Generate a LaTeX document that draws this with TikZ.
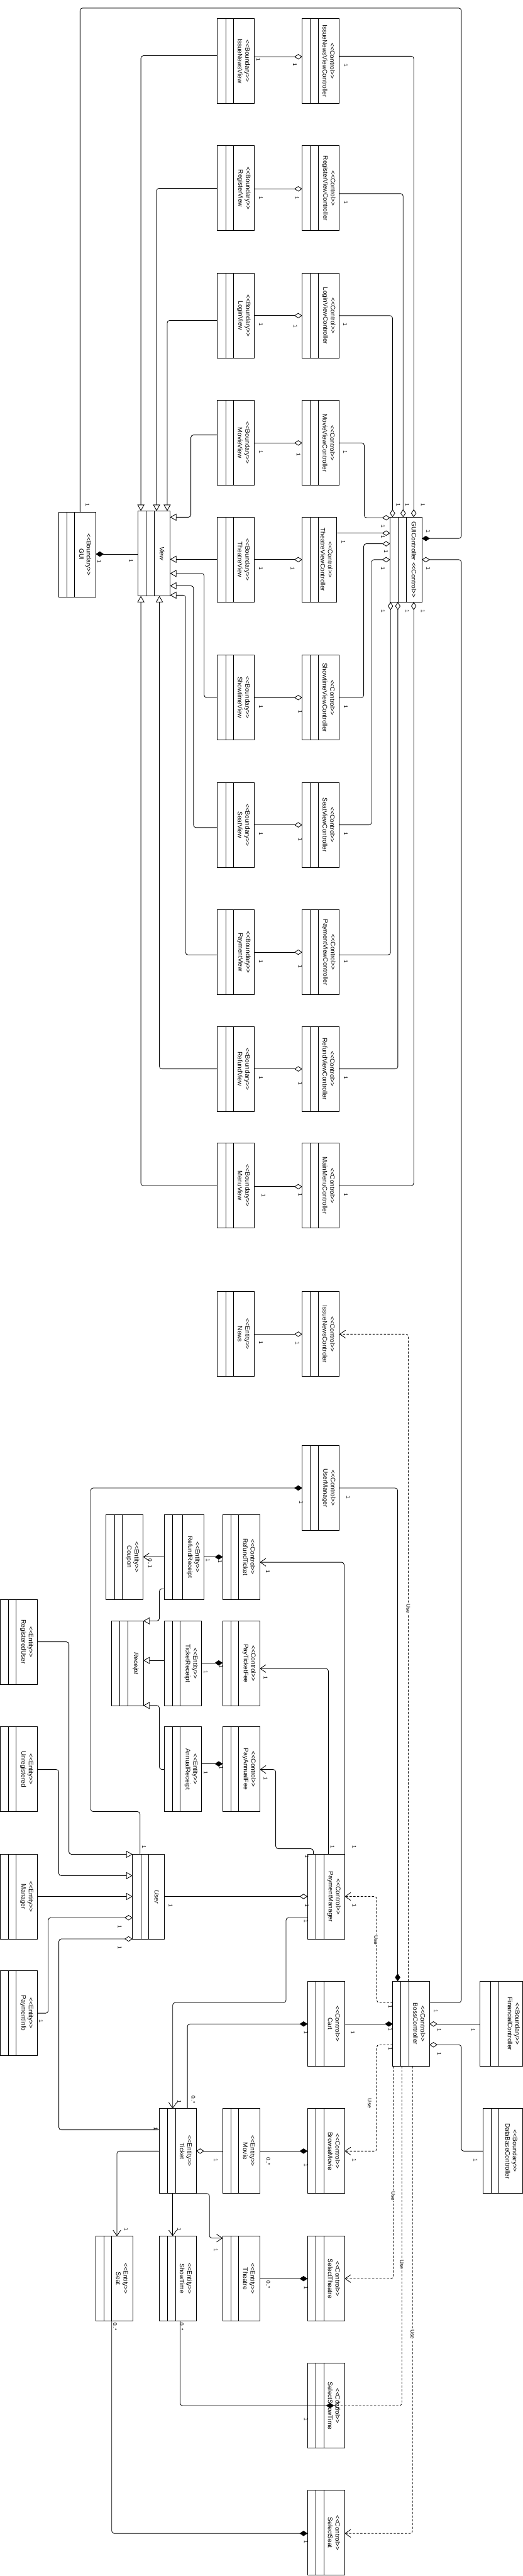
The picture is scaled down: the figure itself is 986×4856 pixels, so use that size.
\documentclass[tikz,border=0pt]{standalone}
\usepackage{fontspec}
\setmainfont{Liberation Sans}
\usetikzlibrary{arrows.meta,calc}
\newcommand{\lgu}{\mbox{<}\mbox{<}}
\newcommand{\rgu}{\mbox{>}\mbox{>}}
\newcounter{mlc}
\newcommand{\mlab}[3]{\stepcounter{mlc}\node[mult] (ml\arabic{mlc}) at (#1,#2) {#3};}
\newcommand{\uselbl}[3]{\node[mult, fill=white, inner sep=1pt] (#1) at (#2,#3) {Use};}
\newcommand{\umlbox}[8]{%
  \node[clsbox, minimum width={#4*0.75pt}, anchor=north west] (#1) at (#2,#3) {};
  \draw[compline] ([xshift={#5*0.75pt}]#1.north west) -- ([xshift={#5*0.75pt}]#1.south west);
  \draw[compline] ([xshift={#6*0.75pt}]#1.north west) -- ([xshift={#6*0.75pt}]#1.south west);
  \node[ctext] (#1t) at ([xshift={#8*0.75pt}]#1.west) {#7};
}
\tikzset{
 clsbox/.style={draw, line width=0.9pt, inner sep=0pt, outer sep=0pt, minimum height=120pt},
 compline/.style={line width=0.6pt},
 ctext/.style={rotate=-90, align=center, inner sep=0pt, font=\fontsize{9}{10.5}\selectfont},
 mult/.style={rotate=-90, inner sep=0.5pt, font=\fontsize{7.5}{8}\selectfont},
 conn/.style={line width=0.75pt, rounded corners=3.5pt},
 agg/.style={conn, -{Diamond[open, length=11.25pt, width=7.5pt]}},
 comp/.style={conn, -{Diamond[length=11.25pt, width=7.5pt]}},
 gen/.style={conn, -{Triangle[open, length=9pt, width=10pt]}},
 nav/.style={conn, -{Straight Barb[length=8pt, width=11pt]}},
 dep/.style={nav, dash pattern=on 3pt off 2.25pt},
}
\begin{document}
\begin{tikzpicture}[x=0.75pt, y=-0.75pt]
\useasboundingbox (0,0) rectangle (986,4856);

% ---------- view / controller rows ----------
\umlbox{ivw}{410}{35}{70}{15.5}{30}{\lgu Boundary\rgu\\IssueNewsView}{50}
\umlbox{ivc}{570}{35}{70}{15.4}{30.5}{\lgu Control\rgu\\IssueNewsViewController}{50}
\umlbox{rvw}{410}{275}{70}{15.5}{30}{\lgu Boundary\rgu\\RegisterView}{50}
\umlbox{rvc}{570}{275}{70}{15.4}{30.5}{\lgu Control\rgu\\RegisterViewController}{50}
\umlbox{lvw}{410}{515}{70}{15.5}{30}{\lgu Boundary\rgu\\LoginView}{50}
\umlbox{lvc}{570}{515}{70}{15.4}{30.5}{\lgu Control\rgu\\LoginViewController}{50}
\umlbox{mvw}{410}{755}{70}{15.5}{30}{\lgu Boundary\rgu\\MovieView}{50}
\umlbox{mvc}{570}{755}{70}{15.4}{30.5}{\lgu Control\rgu\\MovieViewController}{50}
\umlbox{tvw}{410}{975}{70}{15.5}{30}{\lgu Boundary\rgu\\TheatreView}{50}
\umlbox{tvc}{570}{975}{65}{15.4}{30.5}{\lgu Control\rgu\\TheatreViewController}{46}
\umlbox{svw}{410}{1235}{70}{15.5}{30}{\lgu Boundary\rgu\\ShowtimeView}{50}
\umlbox{svc}{570}{1235}{70}{15.4}{30.5}{\lgu Control\rgu\\ShowtimeViewController}{50}
\umlbox{sevw}{410}{1475}{70}{15.5}{30}{\lgu Boundary\rgu\\SeatView}{50}
\umlbox{sevc}{570}{1475}{70}{15.4}{30.5}{\lgu Control\rgu\\SeatViewController}{50}
\umlbox{pvw}{410}{1715}{70}{15.5}{30}{\lgu Boundary\rgu\\PaymentView}{50}
\umlbox{pvc}{570}{1715}{70}{15.4}{30.5}{\lgu Control\rgu\\PaymentViewController}{50}
\umlbox{fvw}{410}{1935}{70}{15.5}{30}{\lgu Boundary\rgu\\RefundView}{50}
\umlbox{fvc}{570}{1935}{70}{15.4}{30.5}{\lgu Control\rgu\\RefundViewController}{50}
\umlbox{menw}{410}{2155}{70}{15.5}{30}{\lgu Boundary\rgu\\MenuView}{50}
\umlbox{menc}{570}{2155}{70}{15.4}{30.5}{\lgu Control\rgu\\MainMenuController}{50}
\umlbox{news}{410}{2435}{70}{15.5}{30}{\lgu Entity\rgu\\News}{50}
\umlbox{inc}{570}{2435}{70}{15.4}{30.5}{\lgu Control\rgu\\IssueNewsControler}{50}

\umlbox{gui}{110.7}{965.4}{70}{15}{30}{\lgu Boundary\rgu\\GUI}{50}
\umlbox{view}{260.7}{963.3}{60}{14.6}{30}{\itshape View}{45}
\umlbox{guic}{735.7}{975}{60}{15}{30}{GUIController \lgu Control\rgu}{45}

% ---------- lower part ----------
\umlbox{um}{570}{2725}{70}{15.4}{30.5}{\lgu Control\rgu\\UserManager}{50}
\umlbox{coupon}{200}{2855}{70}{15.7}{30}{\lgu Entity\rgu\\Coupon}{50}
\umlbox{rr}{310.6}{2855}{74.2}{15}{34}{\lgu Entity\rgu\\RefundReceipt}{54}
\umlbox{rt}{420}{2855}{70}{15}{30}{\lgu Control\rgu\\RefundTicket}{50}
\umlbox{receipt}{210.7}{3055.5}{59.7}{15.3}{30}{\itshape Receipt}{45}
\umlbox{tr}{310.6}{3055.5}{69.8}{15}{29.4}{\lgu Entity\rgu\\TicketReceipt}{50}
\umlbox{ptf}{420}{3055.5}{70}{15}{30}{\lgu Control\rgu\\PayTicketFee}{50}
\umlbox{ar}{310.6}{3255}{69.8}{15}{29.4}{\lgu Entity\rgu\\AnnualReceipt}{50}
\umlbox{paf}{420}{3255}{70}{15}{30}{\lgu Control\rgu\\PayAnnualFee}{50}
\umlbox{regu}{0.5}{3015}{70}{15.2}{29.7}{\lgu Entity\rgu\\RegisteredUser}{50}
\umlbox{unreg}{0.5}{3255}{70}{15.2}{29.7}{\lgu Entity\rgu\\Unregistered}{50}
\umlbox{mgr}{0.5}{3495.5}{70}{15.2}{29.7}{\lgu Entity\rgu\\Manager}{50}
\umlbox{user}{250}{3495.5}{60.6}{15.4}{30.5}{\itshape User}{45.5}
\umlbox{pm}{580}{3495.5}{70}{15.5}{30.6}{\lgu Control\rgu\\PaymentManager}{50}
\umlbox{pinfo}{0.5}{3715}{70}{15.2}{29.7}{\lgu Entity\rgu\\PaymentInfo}{50}
\umlbox{cart}{580}{3735}{70}{15.5}{30.6}{\lgu Control\rgu\\Cart}{50}
\umlbox{boss}{740.8}{3735}{69.2}{15}{30.2}{\lgu Control\rgu\\BossController}{49.7}
\umlbox{fin}{905.7}{3735}{79.8}{20}{34.6}{\lgu Boundary\rgu\\FinancialController}{63.3}
\umlbox{db}{910.5}{3975}{75}{15.5}{29.5}{\lgu Boundary\rgu\\DataBaseController}{54}
\umlbox{ticket}{300.6}{3975}{69.4}{15.1}{30.2}{\lgu Entity\rgu\\Ticket}{50}
\umlbox{movie}{420}{3975}{70}{15}{30}{\lgu Entity\rgu\\Movie}{50}
\umlbox{bm}{580}{3975}{70}{15.5}{30.6}{\lgu Control\rgu\\BrowseMovie}{50}
\umlbox{seat}{180.5}{4215.5}{69.8}{15.1}{30.2}{\lgu Entity\rgu\\Seat}{50}
\umlbox{show}{300.6}{4215.5}{69.4}{15.1}{30.2}{\lgu Entity\rgu\\ShowTime}{50}
\umlbox{theatre}{420}{4215.5}{70}{15}{30}{\lgu Entity\rgu\\Theatre}{50}
\umlbox{st}{580}{4215.5}{70}{15.5}{30.6}{\lgu Control\rgu\\SelectTheatre}{50}
\umlbox{sst}{580}{4455}{70}{15.5}{30.6}{\lgu Control\rgu\\SelectShowTime}{50}
\umlbox{ss}{580}{4694.5}{70}{15.5}{30.6}{\lgu Control\rgu\\SelectSeat}{50}

% ---------- view -> controller aggregations ----------
\draw[agg] (ivw.east |- 0,107) -- (ivc.west |- 0,107);
\draw[agg] (rvw.east |- 0,356) -- (rvc.west |- 0,356);
\draw[agg] (lvw.east |- 0,595) -- (lvc.west |- 0,595);
\draw[agg] (mvw.east |- 0,835) -- (mvc.west |- 0,835);
\draw[agg] (tvw.east |- 0,1055) -- (tvc.west |- 0,1055);
\draw[agg] (svw.east |- 0,1315) -- (svc.west |- 0,1315);
\draw[agg] (sevw.east |- 0,1555) -- (sevc.west |- 0,1555);
\draw[agg] (pvw.east |- 0,1795) -- (pvc.west |- 0,1795);
\draw[agg] (fvw.east |- 0,2015) -- (fvc.west |- 0,2015);
\draw[agg] (menw.east |- 0,2237) -- (menc.west |- 0,2237);
\draw[agg] (news.east |- 0,2515) -- (inc.west |- 0,2515);

% ---------- generalizations to View ----------
\draw[gen] (ivw.west |- 0,105) -| (view.north -| 265.7,0);
\draw[gen] (rvw.west |- 0,355) -| (view.north -| 295.3,0);
\draw[gen] (lvw.west |- 0,604) -| (view.north -| 315.3,0);
\draw[gen] (mvw.west |- 0,820) -| (360,975) -- (view.east |- 0,975);
\draw[gen] (tvw.west |- 0,1054.3) -- (view.east |- 0,1054.3);
\draw[gen] (svw.west |- 0,1315) -| (385,1081) -- (view.east |- 0,1081);
\draw[gen] (sevw.west |- 0,1560) -| (365,1104.3) -- (view.east |- 0,1104.3);
\draw[gen] (pvw.west |- 0,1800) -| (350,1122) -- (view.east |- 0,1122);
\draw[gen] (fvw.west |- 0,2015) -| (view.south -| 300.7,0);
\draw[gen] (menw.west |- 0,2235) -| (view.south -| 265.7,0);

% ---------- controllers -> GUIController ----------
\draw[agg] (ivc.east |- 0,106) -| (guic.north -| 780.3,0);
\draw[agg] (rvc.east |- 0,365) -| (guic.north -| 760.3,0);
\draw[agg] (lvc.east |- 0,595) -| (guic.north -| 740.3,0);
\draw[agg] (mvc.east |- 0,835) -| (687,976) -- (guic.west |- 0,976);
\draw[agg] (tvc.east |- 0,1005) -- (guic.west |- 0,1005);
\draw[agg] (svc.east |- 0,1315) -| (686,1025) -- (guic.west |- 0,1025);
\draw[agg] (sevc.east |- 0,1555) -| (700.7,1055) -- (guic.west |- 0,1055);
\draw[agg] (pvc.east |- 0,1800) -| (guic.south -| 736.5,0);
\draw[agg] (fvc.east |- 0,2015) -| (guic.south -| 750.3,0);
\draw[agg] (menc.east |- 0,2235) -| (guic.south -| 780.3,0);

% ---------- GUI ----------
\draw[comp] (gui.north -| 151,0) -- (151,15.3) -- (870,15.3) -- (870,1015) -- (guic.east |- 0,1015);
\draw[comp] (view.west |- 0,1044.5) -- (gui.east |- 0,1044.5);
\draw[agg] (boss.east |- 0,3775) -| (870,1055) -- (guic.east |- 0,1055);

% ---------- news / user manager ----------
\draw[dep] (boss.north -| 770,0) |- (inc.east |- 0,2515);
\draw[comp] (user.north -| 264,0) -- (264,3415) -| (171,2805) -- (um.west |- 0,2805);
\draw[comp] (um.east |- 0,2805) -| (boss.north -| 750,0);

% ---------- receipts ----------
\draw[nav] (rr.west |- 0,2935) -- (coupon.east |- 0,2935);
\draw[comp] (rr.east |- 0,2935) -- (rt.west |- 0,2935);
\draw[gen] (rr.west |- 0,2995) -| (300.6,3055.5) -- (receipt.east |- 0,3055.5);
\draw[gen] (tr.west |- 0,3130) -- (receipt.east |- 0,3130);
\draw[gen] (ar.west |- 0,3335.6) -| (300.6,3215) -- (receipt.east |- 0,3215);
\draw[comp] (tr.east |- 0,3134.7) -- (ptf.west |- 0,3134.7);
\draw[comp] (ar.east |- 0,3325) -- (paf.west |- 0,3325);
\draw[nav] (pm.north -| 619.4,0) |- (ptf.east |- 0,3145.4);
\draw[nav] (pm.north -| 591,0) -- (591,3485) -| (520,3335.6) -- (paf.east |- 0,3335.6);
\draw[nav] (pm.north -| 649,0) |- (rt.east |- 0,2945);

% ---------- users ----------
\draw[gen] (regu.east |- 0,3095) -| (130,3495.5) -- (user.west |- 0,3495.5);
\draw[gen] (unreg.east |- 0,3335.6) -| (110.7,3535.7) -- (user.west |- 0,3535.7);
\draw[gen] (mgr.east |- 0,3575) -- (user.west |- 0,3575);
\draw[agg] (user.east |- 0,3575) -- (pm.west |- 0,3575);
\draw[dep] (boss.west |- 0,3775) -| (710.6,3575) -- (pm.east |- 0,3575);
\draw[agg] (pinfo.east |- 0,3795) -| (91,3615) -- (user.west |- 0,3615);
\draw[agg] (ticket.west |- 0,4015) -| (111,3655) -- (user.west |- 0,3655);
\draw[nav] (pm.west |- 0,3615) -| (539.5,3775) -| (ticket.north -| 325.7,0);

% ---------- cart / boss ----------
\draw[comp] (ticket.north -| 353.4,0) |- (cart.west |- 0,3815.4);
\draw[comp] (cart.east |- 0,3815.4) -- (boss.west |- 0,3815.4);
\draw[dep] (boss.west |- 0,3854.5) -| (710.6,4055) -- (bm.east |- 0,4055);
\draw[agg] (fin.west |- 0,3815.4) -- (boss.east |- 0,3815.4);
\draw[agg] (db.west |- 0,4055) -| (870,3854.5) -- (boss.east |- 0,3854.5);

% ---------- ticket ----------
\draw[agg] (movie.west |- 0,4055) -- (ticket.east |- 0,4055);
\draw[comp] (movie.east |- 0,4055) -- (bm.west |- 0,4055);
\draw[nav] (ticket.west |- 0,4055) -| (seat.north -| 220.5,0);
\draw[nav] (ticket.south -| 325.7,0) -- (show.north -| 325.7,0);
\draw[nav] (ticket.south east) -- (395,4135) -- (395,4219) -- (theatre.west |- 0,4219);
\draw[comp] (theatre.east |- 0,4295.4) -- (st.west |- 0,4295.4);
\draw[dep] (boss.south -| 741.5,0) |- (st.east |- 0,4295.4);
\draw[dep] (boss.south -| 757.8,0) |- (sst.east |- 0,4534.7);
\draw[dep] (boss.south -| 778,0) |- (ss.east |- 0,4775.7);
\draw[comp] (show.south -| 339.6,0) |- (sst.west |- 0,4534.7);
\draw[comp] (seat.south -| 210.7,0) |- (ss.west |- 0,4775.7);

% ---------- Use labels ----------
\uselbl{u1}{770}{3032}
\uselbl{u2}{709}{3657}
\uselbl{u3}{697}{3965}
\uselbl{u4}{741.5}{4139.5}
\uselbl{u5}{757.8}{4269}
\uselbl{u6}{778}{4400.8}

% ---------- multiplicities ----------
\mlab{487}{112}{1}\mlab{556}{122}{1}\mlab{652}{123}{1}
\mlab{492}{373}{1}\mlab{560}{373}{1}\mlab{652}{382}{1}
\mlab{492}{612}{1}\mlab{557}{615}{1}\mlab{651}{612}{1}
\mlab{492}{852.5}{1}\mlab{563}{857}{1}\mlab{651}{852.5}{1}
\mlab{492}{1071.4}{1}\mlab{552}{1071}{1}\mlab{647.7}{1022}{1}
\mlab{492}{1332}{1}\mlab{566}{1342}{1}\mlab{652}{1332}{1}
\mlab{492}{1572}{1}\mlab{566}{1582}{1}\mlab{652}{1572}{1}
\mlab{492}{1812}{1}\mlab{566}{1822}{1}\mlab{652}{1812}{1}
\mlab{492}{2032}{1}\mlab{566}{2042}{1}\mlab{652}{2032}{1}
\mlab{497}{2254}{1}\mlab{566}{2252}{1}\mlab{652}{2252}{1}
\mlab{492}{2531}{1}\mlab{561}{2532}{1}
\mlab{165}{952}{1}\mlab{187}{1059}{1}\mlab{247}{1057}{1}
\mlab{751}{952}{1}\mlab{767.7}{952}{1}\mlab{797.7}{952}{1}
\mlab{722}{992}{1}\mlab{722}{1011.7}{1}\mlab{728}{1040}{1}\mlab{722}{1072}{1}
\mlab{807.7}{1002}{1}\mlab{807.7}{1072}{1}
\mlab{722}{1152}{1}\mlab{767.7}{1152}{1}\mlab{797.7}{1152}{1}
\mlab{568}{2832}{1}\mlab{657}{2823}{1}\mlab{271.6}{3482}{1}
\mlab{283}{2947}{0..1}\mlab{392}{2941}{1}\mlab{415}{2943}{1}
\mlab{505}{2962}{1}\mlab{668}{3482}{1}
\mlab{388}{3152}{1}\mlab{417}{3142}{1}\mlab{501}{3163}{1}\mlab{627}{3482}{1}
\mlab{388}{3341.7}{1}\mlab{417}{3332}{1}\mlab{501}{3352}{1}\mlab{578.5}{3499}{1}
\mlab{322}{3592}{1}\mlab{578.5}{3592}{1}\mlab{668}{3592}{1}
\mlab{226}{3632.5}{1}\mlab{77}{3810}{1}\mlab{226}{3672}{1}\mlab{293.6}{4012.5}{1}
\mlab{577}{3622}{1}\mlab{338}{3961.6}{1}
\mlab{364.7}{3958}{0..*}\mlab{577}{3831}{1}
\mlab{665}{3831.5}{1}\mlab{736}{3826}{1}
\mlab{736}{3783}{1}\mlab{736}{3862}{1}\mlab{668}{4072.6}{1}
\mlab{822}{3791.7}{1}\mlab{828}{3826.7}{1}\mlab{891.7}{3826.7}{1}
\mlab{828}{3872}{1}\mlab{897}{4072.6}{1}
\mlab{407}{4072.6}{1}\mlab{506}{4074.5}{0..*}\mlab{577}{4082}{1}
\mlab{237.7}{4202}{1}\mlab{338}{4202}{1}\mlab{407}{4242}{1}
\mlab{506}{4306.7}{0..*}\mlab{577}{4313}{1}
\mlab{342.7}{4386}{0..*}\mlab{577}{4560}{1}
\mlab{217}{4386}{0..*}\mlab{577}{4791.7}{1}
\end{tikzpicture}
\end{document}
